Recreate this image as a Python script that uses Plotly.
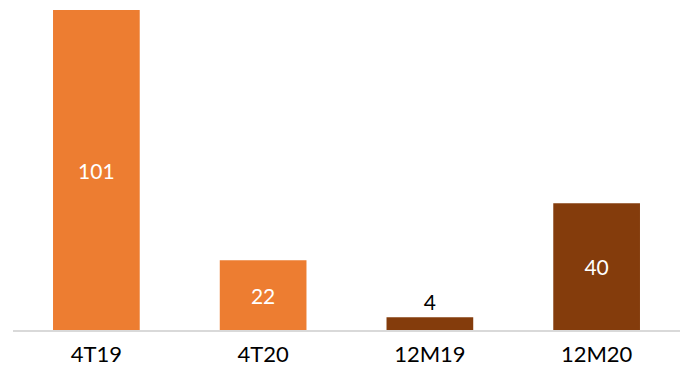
import plotly.graph_objects as go

categories = ["4T19", "4T20", "12M19", "12M20"]
values = [101, 22, 4, 40]
bar_colors = ["#ED7D31", "#ED7D31", "#843C0C", "#843C0C"]
label_positions = ["inside", "inside", "outside", "inside"]

fig = go.Figure(
    go.Bar(
        x=categories,
        y=values,
        marker=dict(color=bar_colors, line=dict(width=0)),
        text=[str(v) for v in values],
        textposition=label_positions,
        insidetextanchor="middle",
        insidetextfont=dict(color="white", size=21, family="Lato"),
        outsidetextfont=dict(color="black", size=21, family="Lato"),
        textangle=0,
        cliponaxis=False,
        width=0.52,
    )
)

fig.update_layout(
    width=680,
    height=368,
    margin=dict(l=13, r=0, t=10, b=38),
    plot_bgcolor="white",
    paper_bgcolor="white",
    showlegend=False,
    bargap=0.48,
)
fig.update_xaxes(
    showgrid=False,
    showline=True,
    linecolor="#D9D9D9",
    linewidth=2,
    ticks="",
    tickfont=dict(family="Lato", size=22, color="black"),
    ticklabelstandoff=4,
    automargin=False,
)
fig.update_yaxes(range=[0, 101], visible=False, showgrid=False, zeroline=False)

fig.write_html("out.html")
